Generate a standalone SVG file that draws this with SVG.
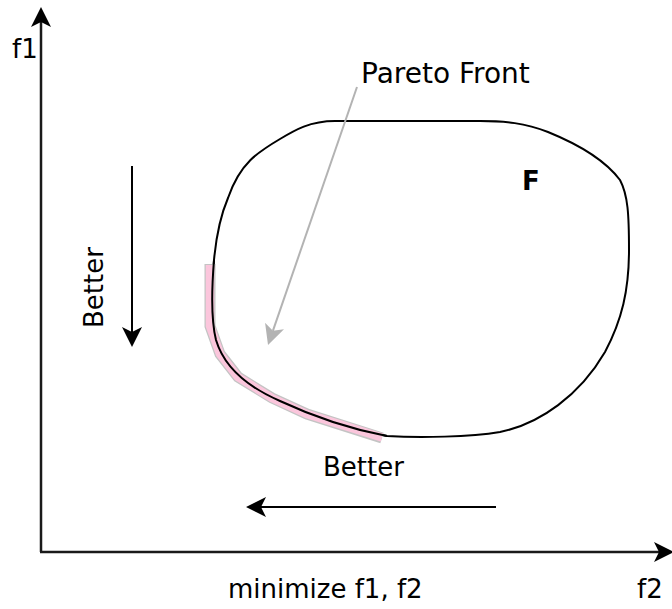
<svg xmlns="http://www.w3.org/2000/svg" width="672" height="609" viewBox="0 0 672 609">
<style>
.t{font-family:"DejaVu Sans","Verdana",sans-serif;font-size:26px;fill:#000}
.b{font-weight:bold}
.ax{stroke:#1a1a1a;stroke-width:2.5;fill:none}
.ar{stroke:#000;stroke-width:2;fill:none}
.gr{stroke:#b3b3b3;stroke-width:2;fill:none}
</style>
<defs>
<marker id="mk" viewBox="0 0 20 20" refX="5" refY="10" markerWidth="20" markerHeight="20" markerUnits="userSpaceOnUse" orient="auto">
<path d="M0,0 L20,10 L0,20 L5,10 Z" fill="#000"/>
</marker>
<marker id="mkg" viewBox="0 0 20 20" refX="5" refY="10" markerWidth="20" markerHeight="20" markerUnits="userSpaceOnUse" orient="auto">
<path d="M0,0 L20,10 L0,20 L5,10 Z" fill="#b3b3b3"/>
</marker>
</defs>
<g id="region-F">
<path d="M387 436 C420 438,470 437,500 432 C540 424,580 395,605 352 C622 320,629 290,629 250 C629 215,628 195,620 180 C605 160,580 145,548 132 C525 123,505 121,480 121 L335 121 C310 121,295 130,280 139 C258 152,240 163,228 198 C222 212,217 228,214 260 C212 285,211 320,216 340 C225 370,250 388,280 401 C310 415,345 428,387 436 Z" fill="none" stroke="#000" stroke-width="2"/>
<text class="t b" x="522" y="190">F</text>
</g>
<g id="pareto-front">
<polyline points="210,264 210,326 220,354 238,377 272,398 307,414 382,438" fill="none" stroke="#c4c4c4" stroke-width="11" stroke-linejoin="miter"/>
<polyline points="210,265 210,326 220,354 238,377 272,398 307,414 382,437.5" fill="none" stroke="#fbc6dc" stroke-width="8.5" stroke-linejoin="miter"/>
<path d="M214 260 C212 285,211 320,216 340 C225 370,250 388,280 401 C310 415,345 428,387 436" fill="none" stroke="#000" stroke-width="2"/>
</g>
<g id="labels">
<text class="t" x="12" y="58">f1</text>
<text class="t" x="228" y="598">minimize f1, f2</text>
<text class="t" x="637" y="598">f2</text>
<text class="t" x="361" y="83" style="font-size:28px">Pareto Front</text>
<text class="t" x="323" y="476">Better</text>
<text class="t" transform="translate(103,328) rotate(-90)">Better</text>
</g>
<g id="connectors">
<line class="ax" x1="41" y1="552" x2="41" y2="22" marker-end="url(#mk)"/>
<line class="ax" x1="40" y1="552" x2="659" y2="552" marker-end="url(#mk)"/>
<line class="ar" x1="132" y1="166" x2="132" y2="332" marker-end="url(#mk)"/>
<line class="ar" x1="496" y1="507" x2="261" y2="507" marker-end="url(#mk)"/>
<line class="gr" x1="357" y1="87" x2="272.9" y2="330.8" marker-end="url(#mkg)"/>
</g>
</svg>
